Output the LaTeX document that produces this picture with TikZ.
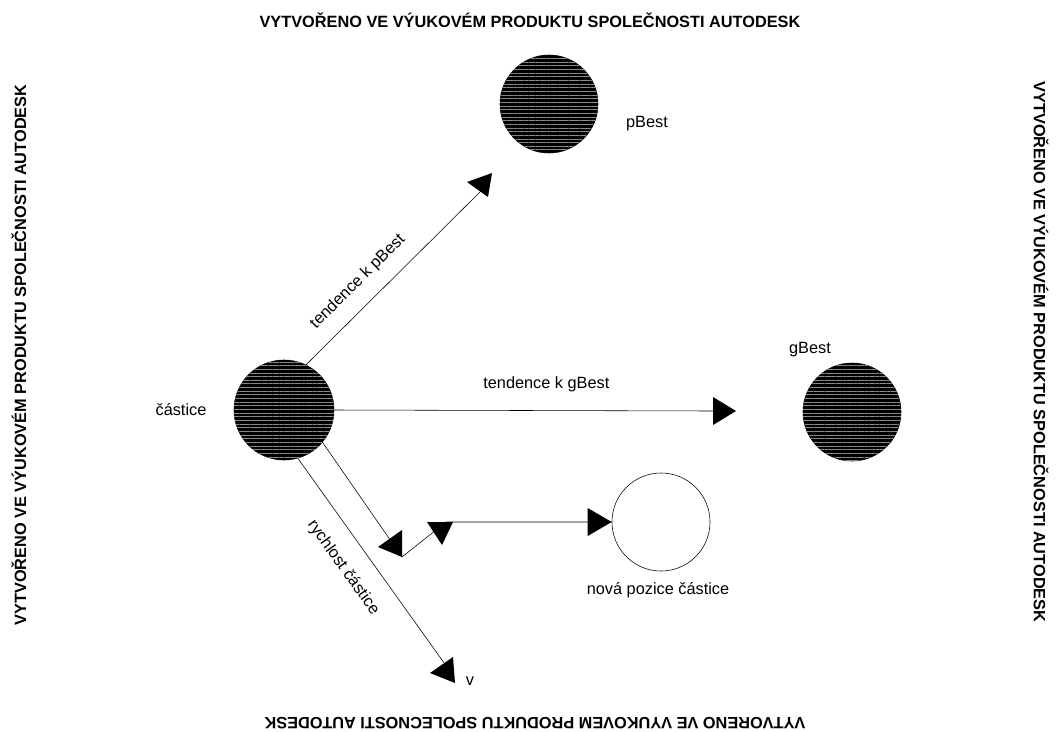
\documentclass[tikz,border=0pt]{standalone}
\usepackage{fontspec}
\setmainfont{Liberation Sans}
\usetikzlibrary{patterns.meta}

\begin{document}
\begin{tikzpicture}[x=0.025cm, y=-0.025cm, font=\fontsize{11.6}{14}\selectfont,
    ball/.style={circle, draw, fill=black, minimum size=2.45cm, inner sep=0pt,
      postaction={pattern={Lines[angle=0,distance=2.6pt,line width=0.25pt]}, pattern color=black!45}},
    hollow/.style={circle, draw, fill=white, minimum size=2.45cm, inner sep=0pt},
    stamp/.style={font=\bfseries\fontsize{11.6}{14}\selectfont, inner sep=0pt},
    head/.style={fill=black}]
    \useasboundingbox (0,0) rectangle (1060,731);

    % Stamps
    \node[stamp] (stampT) at (530,20) {VYTVOŘENO VE VÝUKOVÉM PRODUKTU SPOLEČNOSTI AUTODESK};
    \node[stamp, rotate=180] (stampB) at (535,723) {VYTVORENO VE VYUKOVEM PRODUKTU SPOLECNOSTI AUTODESK};
    \node[stamp, rotate=90] (stampL) at (19,355) {VYTVOŘENO VE VÝUKOVÉM PRODUKTU SPOLEČNOSTI AUTODESK};
    \node[stamp, rotate=-90] (stampR) at (1041,352) {VYTVOŘENO VE VÝUKOVÉM PRODUKTU SPOLEČNOSTI AUTODESK};

    % Nodes
    \node[ball, minimum size=2.5cm] (castice) at (284,410) {};
    \node[ball] (pbest) at (549,104) {};
    \node[ball] (gbest) at (852,412) {};
    \node[hollow] (nova) at (661,522) {};

    \node (casticeL) at (181,410) {částice};
    \node (pbestL) at (647,124) {pBest};
    \node (gbestL) at (810,350) {gBest};
    \node (novaL) at (658,590) {nová pozice částice};

    \coordinate (pB) at (484,188);
    \coordinate (gB) at (713,411);
    \coordinate (c1) at (402,557);
    \coordinate (c2) at (446,522);
    \coordinate (vv) at (447,667);

    % Edges
    \draw (castice.64) -- node[sloped, above=7pt, pos=0.38] {tendence k pBest} (pB);
    \draw (castice.east) -- node[above=10pt, pos=0.56] {tendence k gBest} (gB);
    \draw (castice.-74) -- node[sloped, below=10pt, pos=0.45] {rychlost částice} (vv);
    \draw (castice.-40) -- (c1) -- (c2) -- (nova);

    % Heads
    \fill[head] (467,182) -- (492,173) -- (488,197) -- cycle;
    \fill[head] (713,397) -- (736,411) -- (713,425) -- cycle;
    \fill[head] (378,547) -- (402,530) -- (402,557) -- cycle;
    \fill[head] (427,522) -- (453,522) -- (442,545) -- cycle;
    \fill[head] (nova.west) -- ++(-24,-14) -- ++(0,28) -- cycle;
    \fill[head] (430,673) -- (453,657) -- (455,683) -- cycle;
    \node (vL) at (470,681) {v};
\end{tikzpicture}
\end{document}
